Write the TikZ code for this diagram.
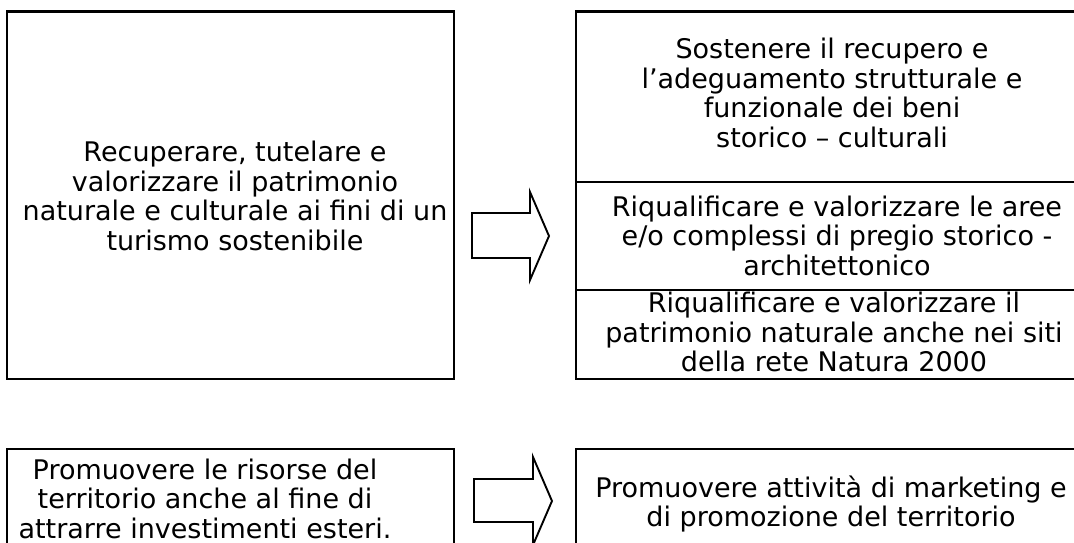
\documentclass[tikz,border=0pt]{standalone}
\usepackage{fontspec}
\setmainfont{DejaVu Sans}
\newcommand{\mylines}[1]{\vtop{\baselineskip=29.5pt\lineskiplimit=-100pt\lineskip=0pt\halign{\hfil##\hfil\cr#1\crcr}}}
\tikzset{
  boxframe/.style={draw=black, line width=2.8pt, rectangle, inner sep=0pt, outer sep=0pt},
  boxtext/.style={anchor=base, inner sep=0pt, outer sep=0pt, font=\fontsize{27}{29.5}\selectfont},
  blockarrow/.style={draw=black, line width=1.9pt, fill=white, line join=miter}
}
\begin{document}
\begin{tikzpicture}[x=1pt,y=-1pt]
\useasboundingbox (0,0) rectangle (1074,543);
\fill[white] (0,0) rectangle (1074,543);
\clip (0,0) rectangle (1074,543);
% boxes
\node[boxframe, minimum width=447pt, minimum height=367.3pt] (lt) at (230.5,195.35) {};
\node[boxframe, minimum width=518pt, minimum height=170.3pt] (r1) at (835,96.85) {};
\node[boxframe, minimum width=518pt, minimum height=108pt] (r2) at (835,236) {};
\node[boxframe, minimum width=518pt, minimum height=89pt] (r3) at (835,334.5) {};
\node[boxframe, minimum width=447pt, minimum height=111pt] (lb) at (230.5,504.5) {};
\node[boxframe, minimum width=518pt, minimum height=111pt] (rb) at (835,504.5) {};
% texts
\node[boxtext] (tlt) at (235,161.5) {\mylines{Recuperare, tutelare e\cr valorizzare il patrimonio\cr naturale e culturale ai fini di un\cr turismo sostenibile}};
\node[boxtext] (tr1) at (832,58.8) {\mylines{Sostenere il recupero e\cr l’adeguamento strutturale e\cr funzionale dei beni\cr storico – culturali}};
\node[boxtext] (tr2) at (837,216.3) {\mylines{Riqualificare e valorizzare le aree\cr e/o complessi di pregio storico -\cr architettonico}};
\node[boxtext] (tr3) at (834,312.5) {\mylines{Riqualificare e valorizzare il\cr patrimonio naturale anche nei siti\cr della rete Natura 2000}};
\node[boxtext] (tlb) at (205,479) {\mylines{Promuovere le risorse del\cr territorio anche al fine di\cr attrarre investimenti esteri.}};
\node[boxtext] (trb) at (831,497) {\mylines{Promuovere attività di marketing e\cr di promozione del territorio}};
% block arrows
\draw[blockarrow] (472,213) -- (530,213) -- (530,192) -- (549,236) -- (530,280) -- (530,258) -- (472,258) -- cycle;
\draw[blockarrow] (474,479) -- (533,479) -- (533,457) -- (552,501) -- (533,545) -- (533,522) -- (474,522) -- cycle;
\end{tikzpicture}
\end{document}
